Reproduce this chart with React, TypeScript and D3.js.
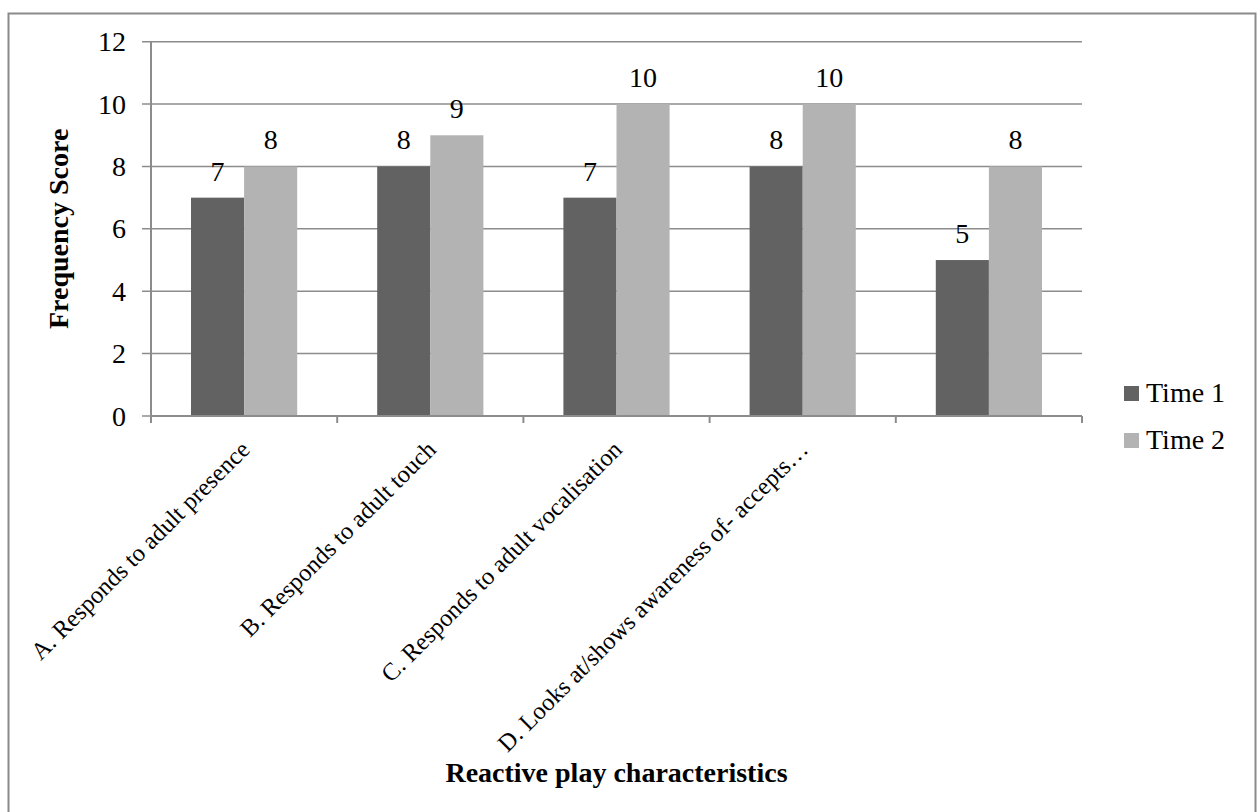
import React, { useEffect, useRef } from "react";
import * as d3 from "d3";

const categories = [
  "A. Responds to adult presence",
  "B. Responds to adult touch",
  "C. Responds to adult vocalisation",
  "D. Looks at/shows awareness of- accepts…",
  "",
];
const seriesNames = ["Time 1", "Time 2"];
const time1 = [7, 8, 7, 8, 5];
const time2 = [8, 9, 10, 10, 8];
const yTicks = [0, 2, 4, 6, 8, 10, 12];
const colors = ["#626262", "#b3b3b3"];

const FONT = "'Liberation Serif', 'DejaVu Serif', serif";
const FS = 28;
const FS_CAT = 24.5;

export default function App() {
  const ref = useRef<SVGSVGElement>(null);

  useEffect(() => {
    const svg = d3.select(ref.current);
    svg.selectAll("*").remove();

    const left = 151;
    const right = 1082;
    const top = 41.7;
    const bottom = 416;

    // outer chart frame
    svg
      .append("rect")
      .attr("x", 8.5)
      .attr("y", 13.5)
      .attr("width", 1247)
      .attr("height", 830)
      .attr("fill", "white")
      .attr("stroke", "#8a8a8a")
      .attr("stroke-width", 2);

    const x = d3.scaleBand<number>().domain(d3.range(categories.length)).range([left, right]);
    const y = d3.scaleLinear().domain([0, 12]).range([bottom, top]);
    const bw = x.bandwidth();
    const pad = 40 / 186.2;
    const inner = d3
      .scaleBand<number>()
      .domain([0, 1])
      .range([bw * pad, bw * (1 - pad)]);

    // horizontal gridlines with outward tick
    svg
      .append("g")
      .selectAll("line")
      .data(yTicks)
      .join("line")
      .attr("x1", left - 9)
      .attr("x2", right)
      .attr("y1", (d) => y(d))
      .attr("y2", (d) => y(d))
      .attr("stroke", "#8c8c8c")
      .attr("stroke-width", 1.5);

    // y tick labels
    svg
      .append("g")
      .selectAll("text")
      .data(yTicks)
      .join("text")
      .attr("x", 126)
      .attr("y", (d) => y(d))
      .attr("dy", "0.34em")
      .attr("text-anchor", "end")
      .attr("font-family", FONT)
      .attr("font-size", FS)
      .attr("fill", "#000")
      .text((d) => d);

    const series = [time1, time2];

    // bars with value labels
    series.forEach((vals, si) => {
      svg
        .append("g")
        .selectAll("rect")
        .data(vals)
        .join("rect")
        .attr("x", (_, i) => (x(i) as number) + (inner(si) as number))
        .attr("y", (d) => y(d))
        .attr("width", inner.bandwidth())
        .attr("height", (d) => bottom - y(d))
        .attr("fill", colors[si]);

      svg
        .append("g")
        .selectAll("text")
        .data(vals)
        .join("text")
        .attr("x", (_, i) => (x(i) as number) + (inner(si) as number) + inner.bandwidth() / 2)
        .attr("y", (d) => y(d) - 17)
        .attr("text-anchor", "middle")
        .attr("font-family", FONT)
        .attr("font-size", FS)
        .attr("fill", "#000")
        .text((d) => d);
    });

    // y axis line
    svg
      .append("line")
      .attr("x1", left)
      .attr("x2", left)
      .attr("y1", top)
      .attr("y2", bottom)
      .attr("stroke", "#8c8c8c")
      .attr("stroke-width", 2);

    // x axis line and category ticks
    svg
      .append("line")
      .attr("x1", left)
      .attr("x2", right)
      .attr("y1", bottom)
      .attr("y2", bottom)
      .attr("stroke", "#8c8c8c")
      .attr("stroke-width", 2);
    const bounds = d3.range(categories.length + 1).map((i) => left + i * bw);
    svg
      .append("g")
      .selectAll("line")
      .data(bounds)
      .join("line")
      .attr("x1", (d) => d)
      .attr("x2", (d) => d)
      .attr("y1", bottom)
      .attr("y2", bottom + 7)
      .attr("stroke", "#8c8c8c")
      .attr("stroke-width", 2);

    // rotated category labels
    svg
      .append("g")
      .selectAll("text")
      .data(categories)
      .join("text")
      .attr("transform", (_, i) => {
        const cx = (x(i) as number) + bw / 2 + 7;
        return `translate(${cx},${bottom + 35}) rotate(-45)`;
      })
      .attr("text-anchor", "end")
      .attr("font-family", FONT)
      .attr("font-size", FS_CAT)
      .attr("fill", "#000")
      .text((d) => d);

    // axis titles
    svg
      .append("text")
      .attr("transform", `translate(68,${(top + bottom) / 2}) rotate(-90)`)
      .attr("text-anchor", "middle")
      .attr("font-family", FONT)
      .attr("font-weight", "bold")
      .attr("font-size", FS)
      .attr("fill", "#000")
      .text("Frequency Score");

    svg
      .append("text")
      .attr("x", (left + right) / 2)
      .attr("y", 782)
      .attr("text-anchor", "middle")
      .attr("font-family", FONT)
      .attr("font-weight", "bold")
      .attr("font-size", FS)
      .attr("fill", "#000")
      .text("Reactive play characteristics");

    // legend
    const lg = svg
      .append("g")
      .selectAll("g")
      .data(seriesNames)
      .join("g")
      .attr("transform", (_, i) => `translate(1124,${386 + i * 47})`);
    lg.append("rect")
      .attr("width", 15)
      .attr("height", 15)
      .attr("fill", (_, i) => colors[i]);
    lg.append("text")
      .attr("x", 22)
      .attr("y", 16)
      .attr("font-family", FONT)
      .attr("font-size", FS)
      .attr("fill", "#000")
      .text((d) => d);
  }, []);

  return (
    <svg
      ref={ref}
      width={1258}
      height={812}
      style={{ position: "absolute", left: 0, top: 0, display: "block" }}
    />
  );
}
